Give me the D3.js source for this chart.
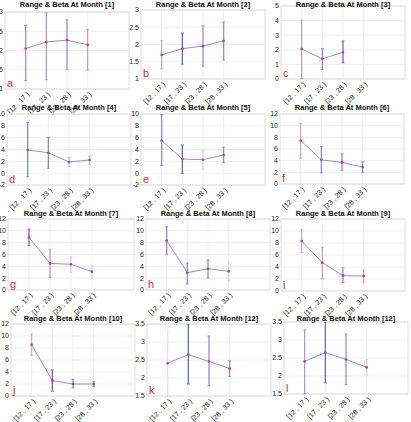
<!DOCTYPE html>
<html>
<head>
<meta charset="utf-8">
<script src="https://cdn.jsdelivr.net/npm/d3@7"></script>
<style>
  html, body { margin: 0; padding: 0; background: #fff; }
  svg { display: block; }
</style>
</head>
<body>
<div id="chart"></div>
<script>
// 数据
const categories = ['[12 , 17 )', '[17 , 23 )', '[23 , 28 )', '[28 , 33 )'];
const months = [1, 2, 3, 4, 5, 6, 7, 8, 9, 10, 12, 12];
const letters = ['a', 'b', 'c', 'd', 'e', 'f', 'g', 'h', 'i', 'j', 'k', 'l'];
const yDomains = [[1, 3], [1, 3], [0, 5], [-2, 10], [-2, 10], [0, 12],
                  [0, 12], [0, 12], [0, 12], [0, 12], [1.5, 3.5], [1.5, 3.5]];
const yTickValues = [
  [1, 1.5, 2, 2.5, 3], [1, 1.5, 2, 2.5, 3], [0, 1, 2, 3, 4, 5],
  [-2, 0, 2, 4, 6, 8, 10], [-2, 0, 2, 4, 6, 8, 10], [0, 2, 4, 6, 8, 10, 12],
  [0, 2, 4, 6, 8, 10, 12], [0, 2, 4, 6, 8, 10, 12], [0, 2, 4, 6, 8, 10, 12],
  [0, 2, 4, 6, 8, 10, 12], [1.5, 2, 2.5, 3, 3.5], [1.5, 2, 2.5, 3, 3.5]
];
const meanValues = [
  [2.05, 2.22, 2.27, 2.15],
  [1.70, 1.88, 1.95, 2.11],
  [2.06, 1.38, 1.83, null],
  [3.92, 3.46, 1.89, 2.23],
  [5.49, 2.39, 2.28, 3.07],
  [7.45, 4.15, 3.70, 2.90],
  [8.90, 4.50, 4.34, 3.10],
  [8.35, 2.92, 3.60, 3.15],
  [8.33, 4.72, 2.56, 2.50],
  [8.56, 2.56, 2.00, 2.00],
  [2.41, 2.65, 2.46, 2.26],
  [2.41, 2.65, 2.46, 2.24]
];
const lowerValues = [
  [1.22, 1.24, 1.51, 1.49],
  [1.29, 1.43, 1.37, 1.55],
  [0.00, 0.64, 1.10, null],
  [-0.59, 0.82, 1.10, 1.50],
  [1.27, -0.03, 0.65, 1.77],
  [4.38, 1.88, 2.28, 2.00],
  [7.50, 2.08, 3.00, 1.86],
  [6.07, 1.01, 2.02, 1.57],
  [6.39, 2.00, 1.39, 1.44],
  [6.78, 0.78, 1.33, 1.56],
  [1.50, 1.83, 1.78, 2.04],
  [1.50, 1.81, 1.76, 2.02]
];
const upperValues = [
  [2.65, 2.98, 2.80, 2.55],
  [2.12, 2.33, 2.54, 2.65],
  [4.04, 2.09, 2.61, null],
  [8.54, 6.06, 2.68, 2.90],
  [10.0, 4.76, 3.92, 4.37],
  [10.4, 6.43, 5.18, 3.81],
  [10.3, 6.90, 5.60, 4.20],
  [10.7, 4.55, 5.10, 4.72],
  [10.3, 7.28, 3.89, 3.50],
  [10.33, 4.33, 2.78, 2.44],
  [3.31, 3.50, 3.17, 2.48],
  [3.28, 3.50, 3.17, 2.46]
];

// 样式：每根误差棒的透明度（原图中深浅不一）
const barOpacity = [
  [0.7, 0.6, 0.7, 0.55],
  [0.45, 1, 0.7, 0.7],
  [0.55, 0.75, 1, 1],
  [0.8, 0.8, 0.4, 0.45],
  [0.75, 1, 0.25, 0.75],
  [0.45, 0.75, 0.75, 0.75],
  [1, 0.6, 0.25, 0.25],
  [0.8, 0.75, 0.75, 0.25],
  [0.45, 0.5, 0.75, 0.5],
  [0.45, 1, 0.75, 0.75],
  [0.12, 1, 0.75, 0.75],
  [0.6, 1, 0.7, 0.25]
];

// 每个子图的绘图区 [left, top, right, bottom]
const boxes = [
  [5, 12, 129, 89], [141, 10, 265, 79], [281, 6, 405, 79],
  [7, 114, 131, 185], [141, 114, 265, 185], [280, 114, 404, 184],
  [8, 219, 134, 290], [146, 219, 270, 290], [281, 219, 405, 291],
  [11, 324, 135, 396], [147, 324, 271, 396], [284, 322, 408, 394]
];
// 每行标题的基线
const titleBaselines = [7, 110, 216, 321];

const W = 411, H = 422;
const barColor = '#5f5fd0';
const lineColor = '#8f8fe6';
const dotColor = '#e0304c';

const svg = d3.select('#chart').append('svg')
  .attr('width', W)
  .attr('height', H)
  .style('font-family', 'Liberation Sans, Arial, sans-serif');

months.forEach((month, p) => {
  const [x0, y0, x1, y1] = boxes[p];
  const x = d3.scaleLinear().domain([0, 6]).range([x0, x1]);
  const y = d3.scaleLinear().domain(yDomains[p]).range([y1, y0]);
  const g = svg.append('g').attr('class', 'panel');

  const clipId = 'clip' + p;
  g.append('clipPath').attr('id', clipId)
    .append('rect')
    .attr('x', x0).attr('y', y0)
    .attr('width', x1 - x0).attr('height', y1 - y0);

  // 网格
  g.selectAll('.hgrid')
    .data(yTickValues[p])
    .enter().append('line')
    .attr('x1', x0).attr('x2', x1)
    .attr('y1', d => y(d)).attr('y2', d => y(d))
    .attr('stroke', '#efefef');
  g.selectAll('.vgrid')
    .data(categories)
    .enter().append('line')
    .attr('x1', (d, i) => x(i + 1)).attr('x2', (d, i) => x(i + 1))
    .attr('y1', y0).attr('y2', y1)
    .attr('stroke', '#efefef');

  // 边框
  g.append('rect')
    .attr('x', x0).attr('y', y0)
    .attr('width', x1 - x0).attr('height', y1 - y0)
    .attr('fill', 'none')
    .attr('stroke', '#dedede');

  // y 轴刻度文字
  g.selectAll('.ytick')
    .data(yTickValues[p])
    .enter().append('text')
    .attr('x', x0 - 2)
    .attr('y', d => y(d))
    .attr('dy', '0.35em')
    .attr('text-anchor', 'end')
    .style('font-size', '7px')
    .attr('fill', '#222')
    .text(d => String(d));

  // x 轴刻度文字（45度旋转）
  g.selectAll('.xtick')
    .data(categories)
    .enter().append('text')
    .attr('transform', (d, i) => `translate(${x(i + 1) + 2.5},${y1 + 4}) rotate(-45)`)
    .attr('text-anchor', 'end')
    .attr('dy', '0.35em')
    .style('font-size', '7px')
    .attr('fill', '#111')
    .text(d => d);

  // 标题
  g.append('text')
    .attr('x', (x0 + x1) / 2)
    .attr('y', titleBaselines[Math.floor(p / 3)])
    .attr('text-anchor', 'middle')
    .style('font-size', '7.5px')
    .style('font-weight', 'bold')
    .attr('fill', '#111')
    .text(`Range &  Beta At Month [${month}]`);

  const pts = categories.map((c, i) => ({
    i: i + 1,
    mean: meanValues[p][i],
    lo: lowerValues[p][i],
    hi: upperValues[p][i],
    op: barOpacity[p][i]
  })).filter(d => d.mean !== null);

  const plot = g.append('g').attr('clip-path', `url(#${clipId})`);

  // 误差棒
  plot.selectAll('.bar')
    .data(pts)
    .enter().append('line')
    .attr('x1', d => x(d.i)).attr('x2', d => x(d.i))
    .attr('y1', d => y(d.lo)).attr('y2', d => y(d.hi))
    .attr('stroke', barColor)
    .attr('stroke-opacity', d => d.op)
    .attr('stroke-width', 1.2);
  ['lo', 'hi'].forEach(k => {
    plot.selectAll('.cap-' + k)
      .data(pts)
      .enter().append('line')
      .attr('x1', d => x(d.i) - 1.5).attr('x2', d => x(d.i) + 1.5)
      .attr('y1', d => y(d[k])).attr('y2', d => y(d[k]))
      .attr('stroke', barColor)
      .attr('stroke-opacity', d => d.op)
      .attr('stroke-width', 0.8);
  });

  // 均值连线
  plot.append('path')
    .datum(pts)
    .attr('fill', 'none')
    .attr('stroke', lineColor)
    .attr('stroke-width', 1)
    .attr('d', d3.line().x(d => x(d.i)).y(d => y(d.mean)));

  // 均值点
  plot.selectAll('.dot')
    .data(pts)
    .enter().append('circle')
    .attr('cx', d => x(d.i))
    .attr('cy', d => y(d.mean))
    .attr('r', 1.3)
    .attr('fill', dotColor);

  // 子图编号
  g.append('text')
    .attr('x', x0 + 2)
    .attr('y', y1 - 2)
    .style('font-size', '11px')
    .attr('fill', '#e8262a')
    .text(letters[p]);
});
</script>
</body>
</html>
